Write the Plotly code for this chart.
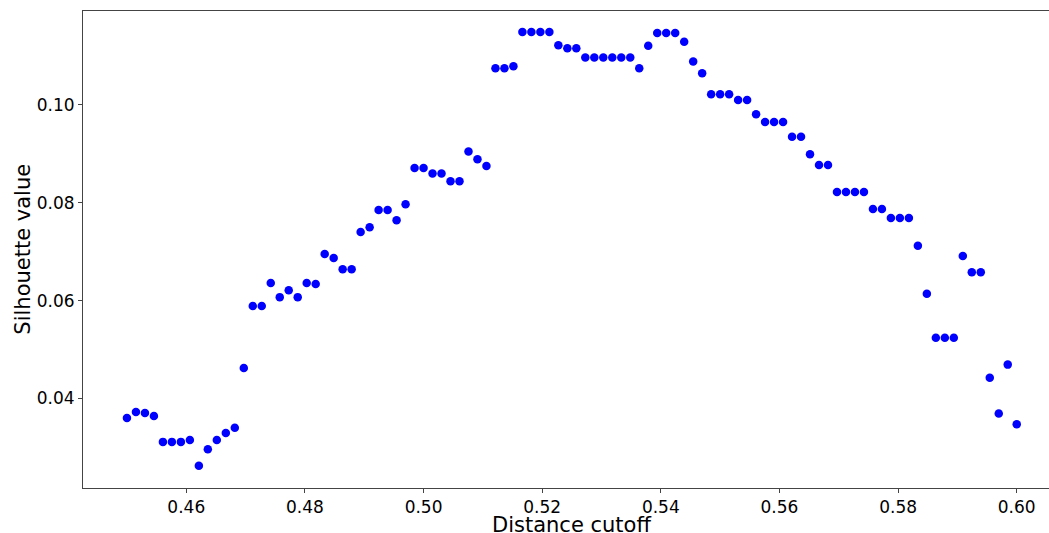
import numpy as np
import plotly.graph_objects as go

# Distance cutoff grid (100 evenly spaced cutoffs between 0.45 and 0.60)
distance_cutoff = np.linspace(0.45, 0.60, 100)

silhouette = [
    0.0360, 0.0372, 0.0370, 0.0364, 0.0311, 0.0311, 0.0311, 0.0315, 0.0262, 0.0296,
    0.0315, 0.0329, 0.0340, 0.0462, 0.0589, 0.0589, 0.0636, 0.0607, 0.0621, 0.0607,
    0.0636, 0.0634, 0.0695, 0.0687, 0.0664, 0.0664, 0.0740, 0.0750, 0.0785, 0.0785,
    0.0764, 0.0797, 0.0871, 0.0871, 0.0860, 0.0860, 0.0844, 0.0844, 0.0905, 0.0889,
    0.0875, 0.1075, 0.1075, 0.1079, 0.1149, 0.1149, 0.1149, 0.1149, 0.1122, 0.1116,
    0.1116, 0.1097, 0.1097, 0.1097, 0.1097, 0.1097, 0.1097, 0.1075, 0.1121, 0.1147,
    0.1147, 0.1147, 0.1129, 0.1089, 0.1065, 0.1022, 0.1022, 0.1022, 0.1010, 0.1010,
    0.0981, 0.0965, 0.0965, 0.0965, 0.0935, 0.0935, 0.0899, 0.0877, 0.0877, 0.0822,
    0.0822, 0.0822, 0.0822, 0.0787, 0.0787, 0.0769, 0.0769, 0.0769, 0.0712, 0.0614,
    0.0524, 0.0524, 0.0524, 0.0691, 0.0658, 0.0658, 0.0442, 0.0369, 0.0469, 0.0347,
]

x_ticks = [0.46, 0.48, 0.50, 0.52, 0.54, 0.56, 0.58, 0.60]
y_ticks = [0.04, 0.06, 0.08, 0.10]
x_title = "Distance cutoff"
y_title = "Silhouette value"

fig = go.Figure()
fig.add_trace(go.Scatter(
    x=distance_cutoff, y=silhouette, mode="markers",
    marker=dict(color="#0000ff", size=8.5, line=dict(width=0)),
    showlegend=False,
))

font = "DejaVu Sans, sans-serif"
fig.update_layout(
    width=1049, height=533,
    margin=dict(l=83, r=0, t=11, b=45),
    paper_bgcolor="white", plot_bgcolor="white",
    font=dict(family=font, size=17, color="black"),
)
fig.update_xaxes(
    range=[0.44259, 0.60544],
    tickvals=x_ticks, ticktext=[f"{v:.2f}" for v in x_ticks],
    ticks="outside", ticklen=4, tickcolor="#444", tickwidth=1,
    showline=True, linecolor="#444", linewidth=1, mirror=True,
    showgrid=False, zeroline=False, automargin=False,
    tickfont=dict(size=17),
)
fig.update_yaxes(
    range=[0.02167, 0.11921],
    tickvals=y_ticks, ticktext=[f"{v:.2f}" for v in y_ticks],
    ticks="outside", ticklen=4, tickcolor="#444", tickwidth=1,
    showline=True, linecolor="#444", linewidth=1,
    showgrid=False, zeroline=False, automargin=False,
    tickfont=dict(size=17),
)
# Axis titles placed as annotations for precise positioning
fig.add_annotation(
    text=x_title, xref="paper", yref="paper", x=0.5052, y=-0.078,
    xanchor="center", yanchor="middle", showarrow=False,
    font=dict(family=font, size=21, color="black"),
)
fig.add_annotation(
    text=y_title, xref="paper", yref="paper", x=-0.063, y=0.5,
    xanchor="center", yanchor="middle", textangle=-90, showarrow=False,
    font=dict(family=font, size=21, color="black"),
)

fig.write_html("out.html")
